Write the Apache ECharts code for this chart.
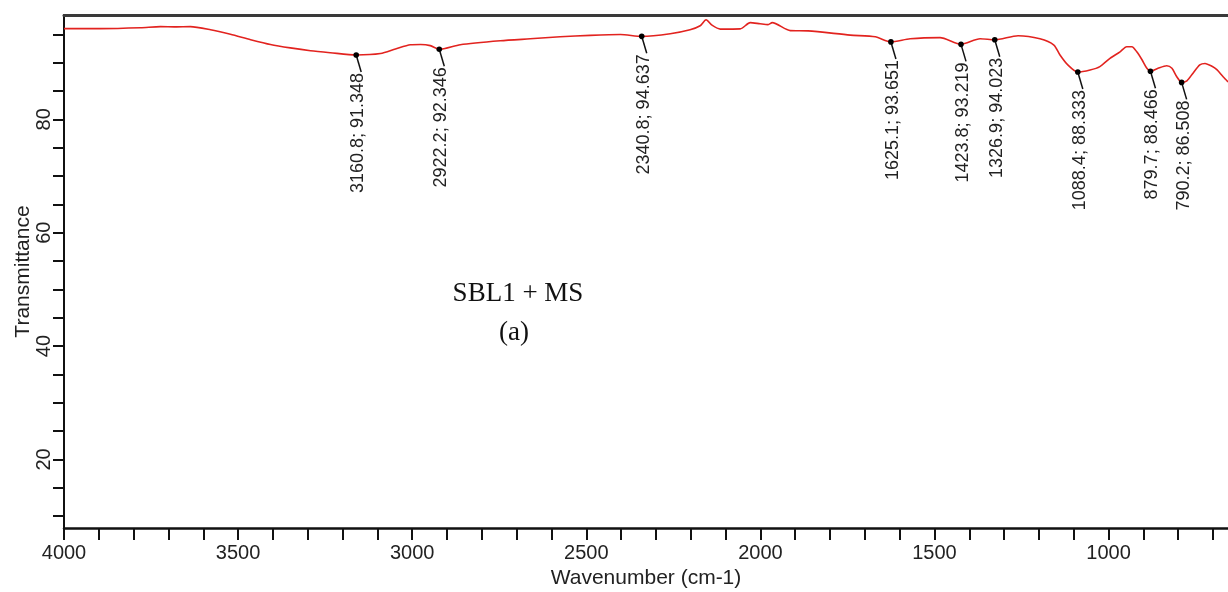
<!DOCTYPE html>
<html>
<head>
<meta charset="utf-8">
<script src="https://cdn.jsdelivr.net/npm/echarts@6/dist/echarts.min.js"></script>
<style>
html,body{margin:0;padding:0;background:#fff;}
#chart{width:1228px;height:592px;}
</style>
</head>
<body>
<div id="chart"></div>
<script>
// Spectrum trace (wavenumber, transmittance)
var waveNumbers = [4000,3895,3780,3723,3680,3637,3579,3522,3464,3407,3350,3292,3235,3160.8,3091,3048,3005,2976,2948,2922.2,2862,2747,2661,2575,2489,2402,2340.8,2259,2202,2173,2156,2139,2115,2058,2029,2001,1978,1966,1914,1863,1742,1670,1625.1,1570,1484,1423.8,1369,1326.9,1260,1197,1157,1140,1117,1088.4,1053,1025,996,967,948,933,919,904,890,879.7,858,833,818,804,790.2,775,758,738,723,703,689,671,657];
var transmittance = [96.0,96.0,96.15,96.35,96.3,96.35,95.8,95.0,94.05,93.2,92.6,92.1,91.75,91.348,91.6,92.4,93.15,93.2,93.0,92.346,93.15,93.85,94.2,94.55,94.8,94.95,94.637,95.1,95.8,96.5,97.55,96.6,95.9,95.95,97.05,96.85,96.7,97.05,95.65,95.6,94.85,94.55,93.651,94.2,94.4,93.219,94.2,94.023,94.75,94.2,93.1,91.4,89.6,88.333,88.7,89.3,90.75,91.9,92.8,92.8,91.9,90.5,89.0,88.466,89.0,89.45,89.0,87.5,86.508,86.8,88.1,89.6,89.85,89.35,88.75,87.5,86.6];

// Labelled peaks
var peakX = [3160.8,2922.2,2340.8,1625.1,1423.8,1326.9,1088.4,879.7,790.2];
var peakY = [91.348,92.346,94.637,93.651,93.219,94.023,88.333,88.466,86.508];

// Axis ticks and labels
var xTickValues = [700,800,900,1000,1100,1200,1300,1400,1500,1600,1700,1800,1900,2000,2100,2200,2300,2400,2500,2600,2700,2800,2900,3000,3100,3200,3300,3400,3500,3600,3700,3800,3900,4000];
var xLabelValues = [1000,1500,2000,2500,3000,3500,4000];
var yTickValues = [10,15,20,25,30,35,40,45,50,55,60,65,70,75,80,85,90,95];
var yLabelValues = [20,40,60,80];

var seriesData = waveNumbers.map(function(x, i){ return [x, transmittance[i]]; });
var peakData = peakX.map(function(x, i){ return [x, peakY[i]]; });
var peakLabels = peakX.map(function(x, i){ return x.toFixed(1) + '; ' + peakY[i].toFixed(3); });

var chart = echarts.init(document.getElementById('chart'), null, {renderer:'canvas'});
var FONT = '"Liberation Sans", Arial, sans-serif';
function plain(v){ return String(v); }
chart.setOption({
  animation: false,
  backgroundColor: '#fff',
  grid: {left: 64, right: 0, top: 15, bottom: 64, containLabel: false, outerBoundsMode: 'none'},
  xAxis: [{
    type: 'value', min: 657, max: 4000, inverse: true,
    name: 'Wavenumber (cm-1)', nameLocation: 'middle', nameGap: 40, nameMoveOverlap: false,
    nameTextStyle: {fontFamily: FONT, fontSize: 21, color: '#222'},
    axisLine: {show: true, onZero: false, lineStyle: {color: '#111', width: 2.5}},
    axisTick: {show: true, inside: false, length: 12, customValues: xTickValues, lineStyle: {color: '#111', width: 2}},
    axisLabel: {show: true, customValues: xLabelValues, formatter: plain, margin: 15, fontFamily: FONT, fontSize: 20, color: '#222'},
    splitLine: {show: false}
  }, {
    type: 'value', position: 'top', min: 657, max: 4000, inverse: true,
    axisLine: {show: true, onZero: false, lineStyle: {color: '#3a3a3a', width: 3}},
    axisTick: {show: false}, axisLabel: {show: false}, splitLine: {show: false}
  }],
  yAxis: {
    type: 'value', min: 7.9, max: 98.4,
    name: 'Transmittance', nameLocation: 'middle', nameGap: 30, nameRotate: 90, nameMoveOverlap: false,
    nameTextStyle: {fontFamily: FONT, fontSize: 21, color: '#222'},
    axisLine: {show: true, onZero: false, lineStyle: {color: '#111', width: 2}},
    axisTick: {show: true, inside: false, length: 11, customValues: yTickValues, lineStyle: {color: '#111', width: 2}},
    axisLabel: {show: true, customValues: yLabelValues, formatter: plain, rotate: 90, margin: 10, fontFamily: FONT, fontSize: 20, color: '#222'},
    splitLine: {show: false}
  },
  series: [{
    type: 'line', data: seriesData, xAxisIndex: 0, yAxisIndex: 0,
    showSymbol: false, smooth: 0.25,
    lineStyle: {color: '#e2231f', width: 1.6}
  }, {
    type: 'custom', coordinateSystem: 'cartesian2d', xAxisIndex: 0, yAxisIndex: 0,
    data: peakData, encode: {x: 0, y: 1}, clip: false, z: 5,
    renderItem: function(params, api){
      var p = api.coord([api.value(0), api.value(1)]);
      return {type: 'group', children: [
        {type: 'line', shape: {x1: p[0], y1: p[1], x2: p[0] + 5, y2: p[1] + 17}, style: {stroke: '#111', lineWidth: 1.5}},
        {type: 'circle', shape: {cx: p[0], cy: p[1], r: 2.8}, style: {fill: '#000'}},
        {type: 'text', x: p[0] + 2, y: p[1] + 18, rotation: Math.PI / 2,
         style: {text: peakLabels[params.dataIndex], x: 0, y: 0, align: 'right', verticalAlign: 'middle',
                 fontFamily: FONT, fontSize: 18, fill: '#222'}}
      ]};
    }
  }],
  graphic: [
    {type: 'text', x: 518, y: 294, style: {text: 'SBL1 + MS', align: 'center', verticalAlign: 'middle', fontFamily: '"Liberation Serif", "Times New Roman", serif', fontSize: 27, fill: '#111'}},
    {type: 'text', x: 514, y: 333, style: {text: '(a)', align: 'center', verticalAlign: 'middle', fontFamily: '"Liberation Serif", "Times New Roman", serif', fontSize: 27, fill: '#111'}}
  ]
});
</script>
</body>
</html>
